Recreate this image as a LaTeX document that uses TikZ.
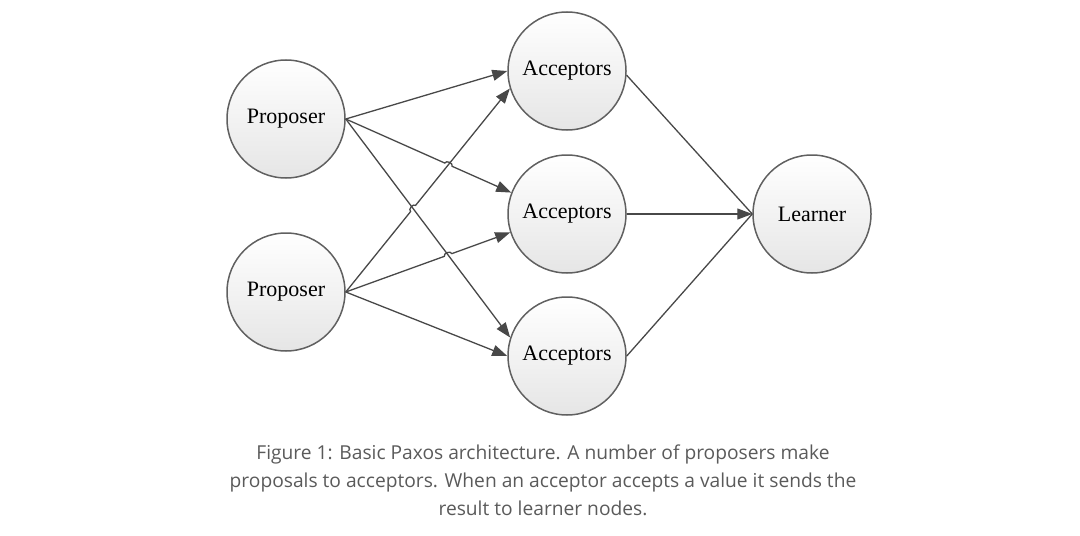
\documentclass[tikz,border=0pt]{standalone}
\usepackage{fontspec}
\setmainfont{Liberation Serif}
\newfontfamily\capfont{Open Sans}
\usetikzlibrary{arrows.meta,calc}
\definecolor{edge}{HTML}{484848}
\definecolor{rim}{HTML}{606060}
\definecolor{captxt}{HTML}{5A5A5A}
\tikzset{
  agent/.style={circle, draw=rim, line width=0.75pt, minimum size=59pt, inner sep=0pt,
    top color=white, bottom color=black!10, font=\fontsize{11}{12}\selectfont},
  arr/.style={draw=edge, line width=0.65pt, -{Triangle[length=7.5pt,width=5.5pt]}},
  ln/.style={draw=edge, line width=0.65pt},
  hop/.style={bend left=90, looseness=1.1}
}
\begin{document}
\begin{tikzpicture}[x=0.5pt,y=-0.5pt]
\useasboundingbox (0,0) rectangle (1080,535);
\node[agent] (P1) at (286,119) {Proposer};
\node[agent] (P2) at (286,292) {Proposer};
\node[agent] (A1) at (567,71) {Acceptors};
\node[agent] (A2) at (567,214) {Acceptors};
\node[agent] (A3) at (567,356) {Acceptors};
\node[agent] (L) at (812,214) {Learner};

\coordinate (X1) at (intersection of P1.east--A2.159 and P2.east--A1.197);
\coordinate (X2) at (intersection of P2.east--A1.197 and P1.east--A3.162);
\coordinate (X3) at (intersection of P2.east--A2.198 and P1.east--A3.162);

% Proposer 1
\draw[arr] (P1.east) -- (A1.180);
\draw[arr] (P1.east) -- ($(X1)!2pt!(P1.east)$) to[hop] ($(X1)!2pt!(A2.159)$) -- (A2.159);
\draw[arr] (P1.east) -- (A3.162);
% Proposer 2
\draw[arr] (P2.east) -- ($(X2)!2pt!(P2.east)$) to[hop] ($(X2)!2pt!(A1.197)$) -- (A1.197);
\draw[arr] (P2.east) -- ($(X3)!2pt!(P2.east)$) to[hop] ($(X3)!2pt!(A2.198)$) -- (A2.198);
\draw[arr] (P2.east) -- (A3.180);
% Acceptors to learner
\draw[ln] (A1.-4) -- (L.west);
\draw[ln] (A3.east) -- (L.west);
\draw[arr] (A2.east) -- (L.west);

\node[font=\capfont\fontsize{9.6}{14}\selectfont, text=captxt, align=center] (cap) at (543,480)
  {Figure 1: Basic Paxos architecture. A number of proposers make\\
   proposals to acceptors. When an acceptor accepts a value it sends the\\
   result to learner nodes.};
\end{tikzpicture}
\end{document}
